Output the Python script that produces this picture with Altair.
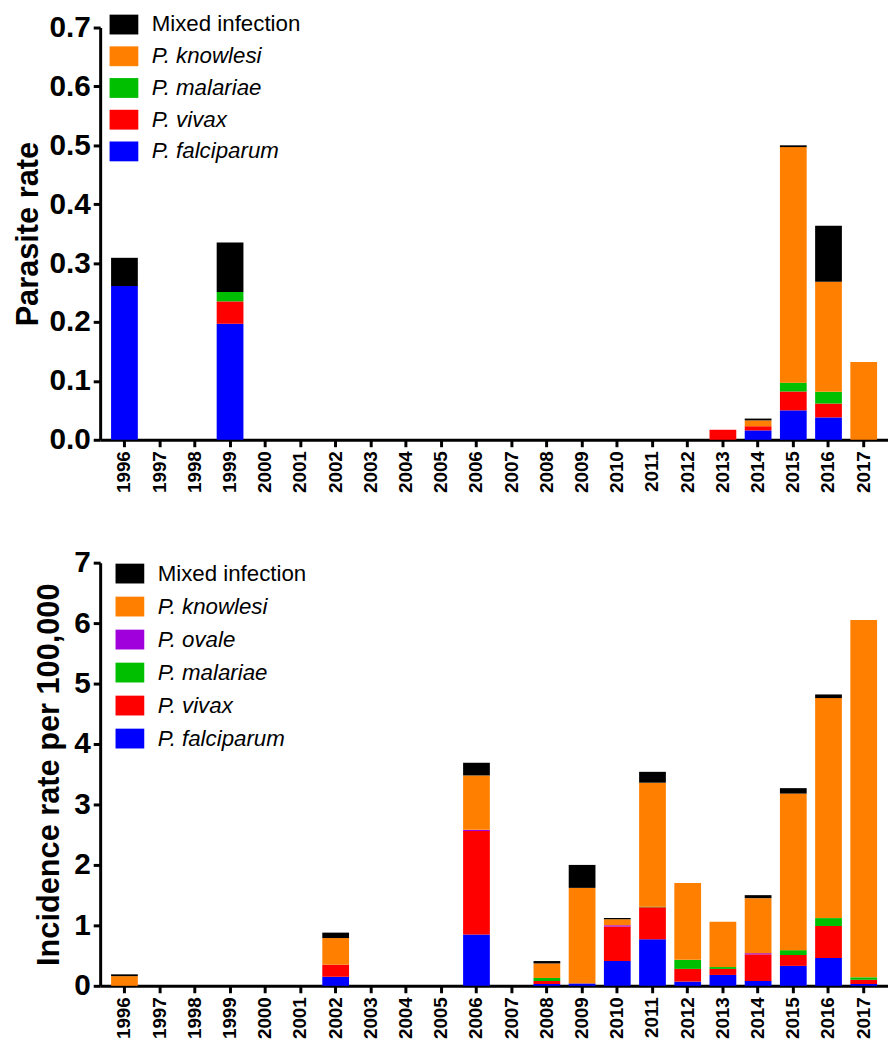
import altair as alt
import pandas as pd

years = [str(y) for y in range(1996, 2018)]

# ---- Top panel: parasite rate ----
pr_species = ["P. falciparum", "P. vivax", "P. malariae", "P. knowlesi", "Mixed infection"]
pr_falciparum = [0.261, 0, 0, 0.197, 0, 0, 0, 0, 0, 0, 0, 0, 0, 0, 0, 0, 0, 0, 0.016, 0.050, 0.038, 0]
pr_vivax      = [0, 0, 0, 0.038, 0, 0, 0, 0, 0, 0, 0, 0, 0, 0, 0, 0, 0, 0.017, 0.007, 0.032, 0.0235, 0]
pr_malariae   = [0, 0, 0, 0.016, 0, 0, 0, 0, 0, 0, 0, 0, 0, 0, 0, 0, 0, 0, 0, 0.015, 0.020, 0]
pr_knowlesi   = [0, 0, 0, 0, 0, 0, 0, 0, 0, 0, 0, 0, 0, 0, 0, 0, 0, 0, 0.010, 0.400, 0.187, 0.132]
pr_mixed      = [0.048, 0, 0, 0.084, 0, 0, 0, 0, 0, 0, 0, 0, 0, 0, 0, 0, 0, 0, 0.003, 0.003, 0.095, 0]
pr_ticks = [0.0, 0.1, 0.2, 0.3, 0.4, 0.5, 0.6, 0.7]

# ---- Bottom panel: incidence rate per 100,000 ----
ir_species = ["P. falciparum", "P. vivax", "P. malariae", "P. ovale", "P. knowlesi", "Mixed infection"]
ir_falciparum = [0, 0, 0, 0, 0, 0, 0.15, 0, 0, 0, 0.85, 0, 0.03, 0.04, 0.41, 0.77, 0.07, 0.18, 0.08, 0.33, 0.46, 0.03]
ir_vivax      = [0, 0, 0, 0, 0, 0, 0.20, 0, 0, 0, 1.71, 0, 0.05, 0, 0.57, 0.53, 0.21, 0.10, 0.44, 0.18, 0.53, 0.07]
ir_malariae   = [0, 0, 0, 0, 0, 0, 0, 0, 0, 0, 0, 0, 0.05, 0, 0, 0.01, 0.15, 0.03, 0, 0.08, 0.13, 0.04]
ir_ovale      = [0, 0, 0, 0, 0, 0, 0, 0, 0, 0, 0.02, 0, 0, 0, 0.02, 0, 0, 0, 0.02, 0, 0, 0]
ir_knowlesi   = [0.16, 0, 0, 0, 0, 0, 0.44, 0, 0, 0, 0.90, 0, 0.24, 1.58, 0.10, 2.05, 1.27, 0.75, 0.91, 2.59, 3.64, 5.91]
ir_mixed      = [0.03, 0, 0, 0, 0, 0, 0.09, 0, 0, 0, 0.21, 0, 0.04, 0.38, 0.02, 0.18, 0, 0, 0.05, 0.09, 0.06, 0]
ir_ticks = [0, 1, 2, 3, 4, 5, 6, 7]

all_species = ["P. falciparum", "P. vivax", "P. malariae", "P. ovale", "P. knowlesi", "Mixed infection"]
all_colors = ["#0000FF", "#FF0000", "#00BE00", "#A000DC", "#FF8000", "#000000"]

FONT = "Liberation Sans"
W = 795
CSCALE = alt.Scale(domain=all_species, range=all_colors)


def long_df(species, series):
    rows = []
    for k, (sp, vals) in enumerate(zip(species, series)):
        for yr, v in zip(years, vals):
            rows.append({"year": yr, "species": sp, "value": v, "stack": k})
    return pd.DataFrame(rows)


def panel(species, series, ticks, fmt, title, height, leg_top, leg_step, sym_x, lab_x, title_pad):
    df = long_df(species, series)

    bars = alt.Chart(df).transform_filter("datum.value > 0").mark_bar(strokeWidth=0).encode(
        x=alt.X("year:O", sort=years, title=None,
                scale=alt.Scale(domain=years, paddingInner=0.24, paddingOuter=0.31),
                axis=alt.Axis(labelAngle=270, labelFontSize=19, tickSize=7, labelPadding=4)),
        y=alt.Y("value:Q", stack="zero", title=title,
                scale=alt.Scale(domain=[ticks[0], ticks[-1]], nice=False, zero=True),
                axis=alt.Axis(values=ticks, format=fmt, labelFontSize=30, titleFontSize=31,
                              tickSize=7, labelPadding=3, titlePadding=title_pad)),
        color=alt.Color("species:N", scale=CSCALE, legend=None),
        order=alt.Order("stack:Q", sort="ascending"),
    )

    # legend (top entry = last stacked series)
    leg_names = list(reversed(species))
    leg_df = pd.DataFrame({
        "species": leg_names,
        "idx": list(range(len(leg_names))),
        "italic": [n != "Mixed infection" for n in leg_names],
    })
    n = len(leg_names)
    lscale = alt.Scale(domain=[0, n - 1], range=[leg_top, leg_top + leg_step * (n - 1)])
    base = alt.Chart(leg_df)
    sym = base.mark_point(
        shape="M-1,-0.69L1,-0.69L1,0.69L-1,0.69Z", size=841, filled=True, opacity=1, strokeWidth=0
    ).encode(
        x=alt.value(sym_x),
        y=alt.Y("idx:Q", scale=lscale, axis=None),
        color=alt.Color("species:N", scale=CSCALE, legend=None),
    )
    txt_norm = base.transform_filter("!datum.italic").mark_text(
        align="left", baseline="middle", font=FONT, fontSize=22.5, color="black"
    ).encode(x=alt.value(lab_x), y=alt.Y("idx:Q", scale=lscale, axis=None), text="species:N")
    txt_it = base.transform_filter("datum.italic").mark_text(
        align="left", baseline="middle", font=FONT, fontSize=22.5, fontStyle="italic", color="black"
    ).encode(x=alt.value(lab_x), y=alt.Y("idx:Q", scale=lscale, axis=None), text="species:N")

    return alt.layer(bars, sym, txt_norm, txt_it).resolve_scale(y="independent").properties(
        width=W, height=height
    )


top = panel(pr_species, [pr_falciparum, pr_vivax, pr_malariae, pr_knowlesi, pr_mixed],
            pr_ticks, ".1f", "Parasite rate", 416, -3, 32, 24, 52, 5)
bottom = panel(ir_species, [ir_falciparum, ir_vivax, ir_malariae, ir_ovale, ir_knowlesi, ir_mixed],
               ir_ticks, "d", "Incidence rate per 100,000", 427, 11, 33.3, 30, 58, 8)

chart = alt.vconcat(top, bottom, spacing=124, bounds="flush").properties(
    padding={"left": 4, "top": 0, "right": 0, "bottom": 0}
).configure_view(stroke=None).configure_axis(
    domainColor="black", domainWidth=3, tickColor="black", tickWidth=3, grid=False,
    labelColor="black", titleColor="black", labelFont=FONT, titleFont=FONT,
    labelFontWeight="bold", titleFontWeight="bold",
)

chart.save("out.html", embed_options={"renderer": "svg", "actions": False})
